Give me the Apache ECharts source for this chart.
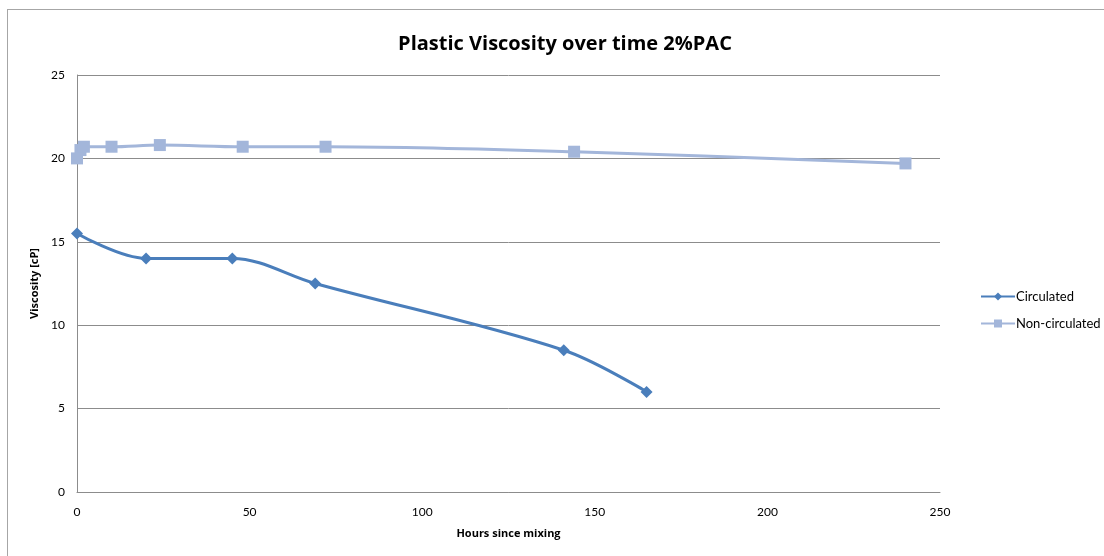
<!DOCTYPE html>
<html>
<head>
<meta charset="utf-8">
<script src="https://cdn.jsdelivr.net/npm/echarts@6/dist/echarts.min.js"></script>
<style>
  html, body { margin: 0; padding: 0; background: #fff; overflow: hidden; }
  #frame { position: absolute; left: 7px; top: 9px; width: 1200px; height: 700px; border-left: 1px solid #a6a6a6; border-top: 1px solid #a6a6a6; }
  #chart { position: absolute; left: 0; top: 0; width: 1104px; height: 556px; }
</style>
</head>
<body>
<div id="frame"></div>
<div id="chart"></div>
<script>
// Hours since mixing and plastic viscosity readings for each sample
const circulatedHours = [0, 20, 45, 69, 141, 165];
const circulatedViscosity = [15.5, 14, 14, 12.5, 8.5, 6];
const nonCirculatedHours = [0, 1, 2, 10, 24, 48, 72, 144, 240];
const nonCirculatedViscosity = [20, 20.5, 20.7, 20.7, 20.8, 20.7, 20.7, 20.4, 19.7];
const xTicks = [0, 50, 100, 150, 200, 250];
const yTicks = [0, 5, 10, 15, 20, 25];

const pairs = (xs, ys) => xs.map((x, i) => [x, ys[i]]);
const font = 'Lato, "Noto Sans", sans-serif';
const boldFont = '"Open Sans", "Noto Sans", sans-serif';

const chart = echarts.init(document.getElementById('chart'));
chart.setOption({
  animation: false,
  backgroundColor: 'transparent',
  title: {
    text: 'Plastic Viscosity over time 2%PAC',
    left: 560, top: 29, textAlign: 'center',
    textStyle: { fontFamily: boldFont, fontSize: 20, fontWeight: 'bold', color: '#000' }
  },
  legend: {
    orient: 'vertical', left: 975, top: 285, itemGap: 14,
    itemWidth: 34, itemHeight: 10,
    textStyle: { fontFamily: font, fontSize: 13, color: '#000', padding: [0, 0, 0, -4] },
    data: ['Circulated', 'Non-circulated']
  },
  grid: { left: 77, right: 164, top: 75, bottom: 64 },
  xAxis: {
    type: 'value', min: xTicks[0], max: xTicks[xTicks.length - 1], interval: 50,
    name: 'Hours since mixing', nameLocation: 'middle', nameGap: 36,
    nameTextStyle: { fontFamily: boldFont, fontSize: 11, fontWeight: 'bold', color: '#000' },
    axisLine: { lineStyle: { color: '#8c8c8c' } },
    axisTick: { show: false },
    splitLine: { show: false },
    axisLabel: { fontFamily: font, fontSize: 12, color: '#000', margin: 14 }
  },
  yAxis: {
    type: 'value', min: yTicks[0], max: yTicks[yTicks.length - 1], interval: 5,
    name: 'Viscosity [cP]', nameLocation: 'middle', nameGap: 33, nameRotate: 90,
    nameTextStyle: { fontFamily: boldFont, fontSize: 11, fontWeight: 'bold', color: '#000' },
    axisLine: { show: true, lineStyle: { color: '#8c8c8c' } },
    axisTick: { show: false },
    splitLine: { lineStyle: { color: '#8c8c8c' } },
    axisLabel: { fontFamily: font, fontSize: 12, color: '#000', margin: 12 }
  },
  series: [
    {
      name: 'Circulated', type: 'line', smooth: 0.35,
      data: pairs(circulatedHours, circulatedViscosity),
      symbol: 'diamond', symbolSize: 12,
      itemStyle: { color: '#4A7EBB' },
      lineStyle: { color: '#4A7EBB', width: 3 },
      z: 3
    },
    {
      name: 'Non-circulated', type: 'line', smooth: 0.35,
      data: pairs(nonCirculatedHours, nonCirculatedViscosity),
      symbol: 'rect', symbolSize: 12,
      itemStyle: { color: '#A3B6DA' },
      lineStyle: { color: '#A3B6DA', width: 3 },
      z: 2
    }
  ]
});
</script>
</body>
</html>
